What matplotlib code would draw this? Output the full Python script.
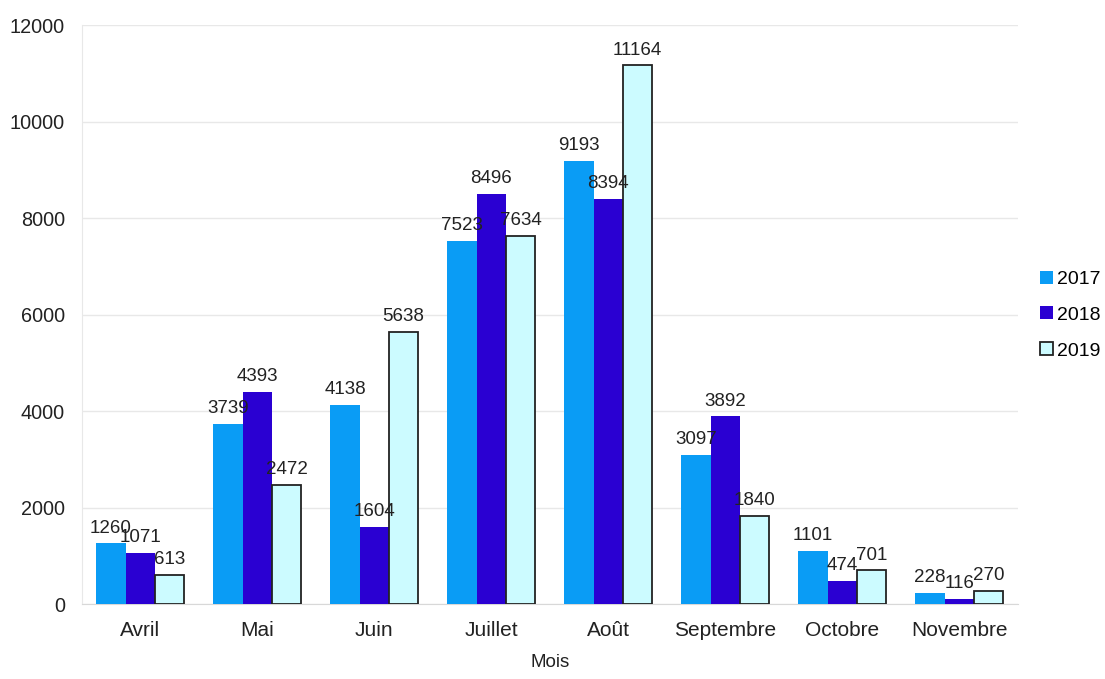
import numpy as np
import matplotlib.pyplot as plt

plt.rcParams['font.family'] = ['Liberation Sans', 'DejaVu Sans']

mois = ['Avril', 'Mai', 'Juin', 'Juillet', 'Août', 'Septembre', 'Octobre', 'Novembre']
v2017 = [1260, 3739, 4138, 7523, 9193, 3097, 1101, 228]
v2018 = [1071, 4393, 1604, 8496, 8394, 3892, 474, 116]
v2019 = [613, 2472, 5638, 7634, 11164, 1840, 701, 270]

series = [('2017', v2017, '#0a9cf5', 'none'),
          ('2018', v2018, '#2a00d2', 'none'),
          ('2019', v2019, '#ccfbff', '#222222')]

fig = plt.figure(figsize=(11.05, 6.79), dpi=100)
ax = fig.add_axes([0.074, 0.110, 0.847, 0.853])

x = np.arange(len(mois))
w = 0.25
for i, (name, vals, color, edge) in enumerate(series):
    pos = x + (i - 1) * w
    bars = ax.bar(pos, vals, w, color=color, edgecolor=edge, linewidth=1.3 if edge != 'none' else 0,
                  label=name, zorder=3)
    for b, v in zip(bars, vals):
        ax.annotate(str(v), (b.get_x() + b.get_width() / 2, v), xytext=(0, 5),
                    textcoords='offset points', ha='center', va='bottom', fontsize=13.5, color='#222222', zorder=4)

ax.set_xlim(-0.5, len(mois) - 0.5)
ax.set_ylim(0, 12000)
ax.set_yticks(range(0, 12001, 2000))
ax.set_xticks(x)
ax.set_xticklabels(mois, fontsize=15)
ax.tick_params(axis='both', length=0, colors='#222222')
ax.tick_params(axis='y', labelsize=14.3, pad=12)
ax.tick_params(axis='x', pad=12)
ax.grid(axis='y', color='#e8e8e8', linewidth=1, zorder=0)
for s in ['top', 'right']:
    ax.spines[s].set_visible(False)
ax.spines['left'].set_color('#e8e8e8')
ax.spines['bottom'].set_color('#d8d8d8')
ax.set_xlabel('Mois', fontsize=13.5, color='#222222', labelpad=10)

ax.legend(loc='center left', bbox_to_anchor=(1040 / 1105, 0.536), bbox_transform=fig.transFigure,
          frameon=False, fontsize=14, borderpad=0, borderaxespad=0,
          handlelength=0.65, handleheight=0.65, handletextpad=0.25, labelspacing=0.95)

fig.savefig('out.png', dpi=100)
